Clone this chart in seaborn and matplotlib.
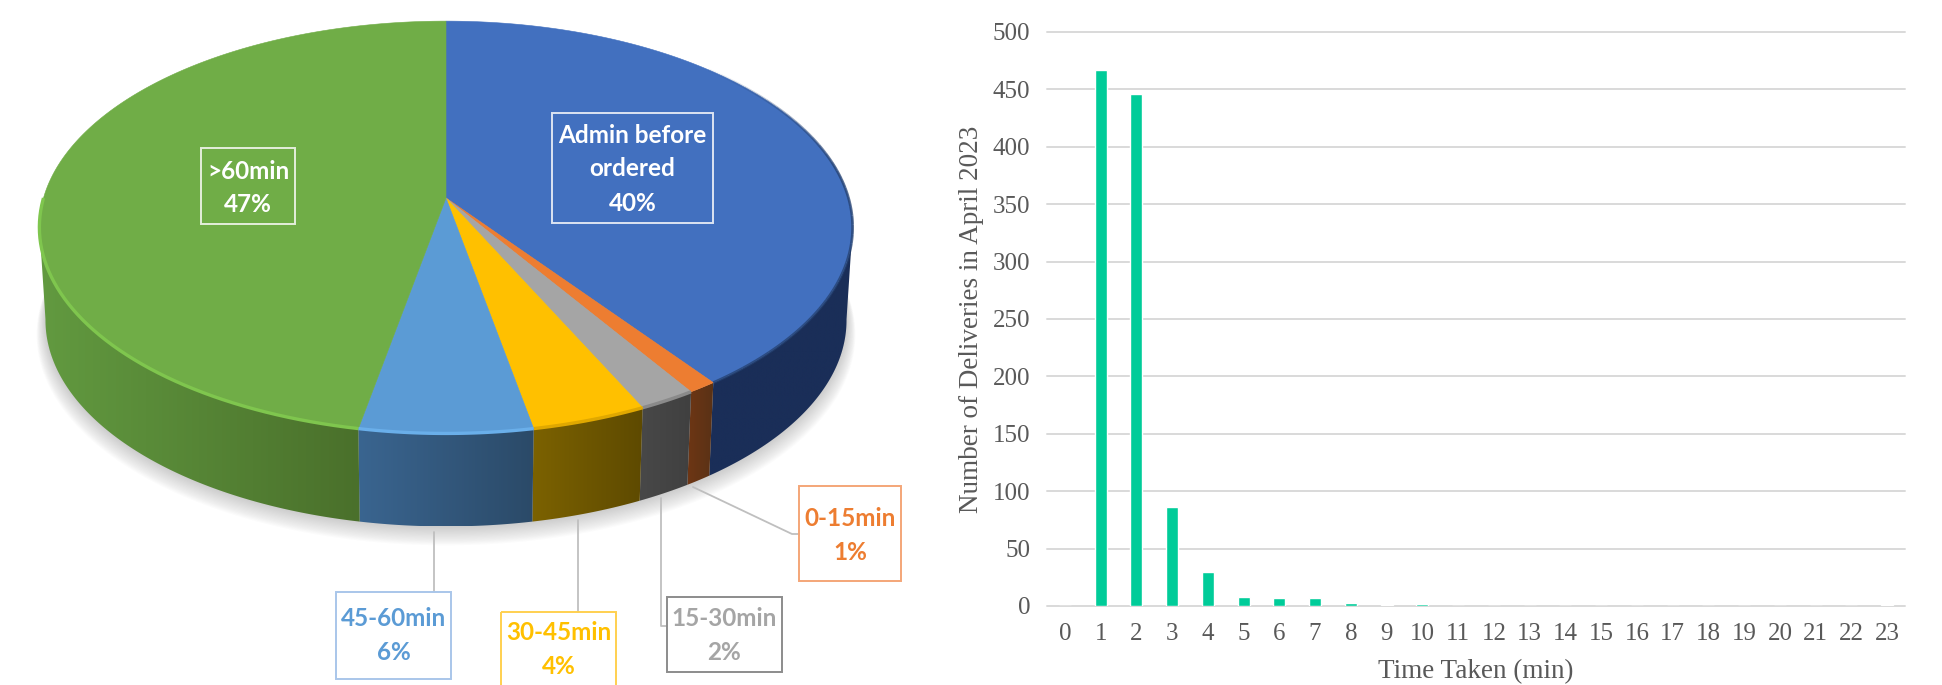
import numpy as np
import pandas as pd
import matplotlib
matplotlib.use("Agg")
import matplotlib.pyplot as plt
from matplotlib.patches import Polygon, Rectangle
from matplotlib.colors import LinearSegmentedColormap
import seaborn as sns

# Share of deliveries by lead-time band, clockwise from twelve o'clock
band_names = ["Admin before\nordered", "0-15min", "15-30min", "30-45min", "45-60min", ">60min"]
band_shares = [40, 1, 2, 4, 6, 47]
top_colors = ["#4270BF", "#ED7D31", "#A5A5A5", "#FFC000", "#5B9BD5", "#70AD47"]
side_left = ["#1A2E58", "#6E3614", "#484848", "#7C6200", "#3A6590", "#629A40"]
side_right = ["#1A2E58", "#5A3216", "#404040", "#5E4A00", "#2B4A68", "#4A702B"]
rim_colors = [None, None, "#8A8A8A", "#E0A800", "#6AAFEA", "#7FC64E"]
label_colors = ["white", "#ED7D31", "#A5A5A5", "#FFC000", "#5B9BD5", "white"]
edge_colors = ["#DCE4F2", "#F4A678", "#8C8C8C", "#FFD050", "#A9C6EA", "#E4EEDC"]

# Deliveries per minute taken
minutes = list(range(24))
deliveries = [0, 467, 446, 86, 30, 8, 7, 7, 3, 1, 2, 0, 0, 0, 0, 0, 0, 0, 0, 0, 0, 0, 0, 1]

W, H = 1942, 685
GREY = "#595959"

sns.set_theme(style="white")
plt.rcParams["font.family"] = ["Liberation Serif", "DejaVu Sans"]

fig = plt.figure(figsize=(W / 100, H / 100), dpi=100, facecolor="white")

# ---------- perspective pie ----------
pie_ax = fig.add_axes([0, 0, 1, 1])
pie_ax.set_xlim(0, W)
pie_ax.set_ylim(H, 0)
pie_ax.axis("off")

APEX_X, APEX_Y = 446, 198
SPREAD_X, SPREAD_Y, TILT = 402.5, 202.0, 0.142
DEPTH, BASE_SHRINK = 93, 0.985
# Only this stretch of the circle faces the viewer
FRONT_START, FRONT_END = 0.272, 0.728


def rim(frac_start, frac_end, lower=False):
    """Points on the rim between two cumulative fractions of the circle."""
    n = max(int(abs(frac_end - frac_start) * 720), 2)
    theta = 2 * np.pi * np.linspace(frac_start, frac_end, n)
    x, y = np.sin(theta), -np.cos(theta)
    denom = 1 - TILT * y
    px = x * SPREAD_X / denom
    py = y * SPREAD_Y / denom
    if lower:
        return np.column_stack([APEX_X + px * BASE_SHRINK, APEX_Y + py + DEPTH])
    return np.column_stack([APEX_X + px, APEX_Y + py])


# Soft shadow on the ground below the pie
base = rim(0, 1, lower=True)
base_mid = base.mean(axis=0)
for s in np.linspace(1, 0, 16):
    spread = base_mid + (base - base_mid) * (1 + 0.022 * s) + [0, 14 * s]
    pie_ax.add_patch(Polygon(spread, closed=True, fc="#707070", ec="none",
                             alpha=0.022, zorder=1))

bounds = np.concatenate([[0], np.cumsum(band_shares)]) / sum(band_shares)

# Side wall, each band with its own left-to-right shading
for i in range(len(band_shares)):
    start = max(bounds[i], FRONT_START)
    end = min(bounds[i + 1], FRONT_END)
    if end <= start:
        continue
    upper = rim(start, end)
    lower = rim(start, end, lower=True)
    outline = np.vstack([upper, lower[::-1]])
    clip = Polygon(outline, closed=True, fc="none", ec="none", transform=pie_ax.transData)
    pie_ax.add_patch(clip)
    xmin, xmax = outline[:, 0].min(), outline[:, 0].max()
    ymin, ymax = outline[:, 1].min(), outline[:, 1].max()
    cmap = LinearSegmentedColormap.from_list("wall", [side_left[i], side_right[i]])
    img = pie_ax.imshow(np.linspace(0, 1, 256)[None, :], cmap=cmap, aspect="auto",
                        extent=[xmin, xmax, ymax, ymin], zorder=2)
    img.set_clip_path(clip)
pie_ax.set_xlim(0, W)
pie_ax.set_ylim(H, 0)

# Top face
for i in range(len(band_shares)):
    pts = np.vstack([[APEX_X, APEX_Y], rim(bounds[i], bounds[i + 1])])
    pie_ax.add_patch(Polygon(pts, closed=True, fc=top_colors[i], ec=top_colors[i],
                             lw=0.4, zorder=3))

# Bevel along the front rim: light on the left bands, fading dark edge on the blue
for i, colour in enumerate(rim_colors):
    if colour is None:
        continue
    stop = min(bounds[i + 1], 0.75)
    bevel = rim(bounds[i], stop)
    pie_ax.plot(bevel[:, 0], bevel[:, 1], color=colour, lw=2.4, zorder=4,
                solid_capstyle="butt")
fade_steps = np.linspace(0.12, bounds[1], 40)
for k, (f0, f1) in enumerate(zip(fade_steps[:-1], fade_steps[1:])):
    edge = rim(f0, f1)
    pie_ax.plot(edge[:, 0], edge[:, 1], color="#24406F",
                alpha=min(k / 14, 1) * 0.75, lw=2.0, zorder=4, solid_capstyle="butt")

# Leader lines from the rim to the outside labels
leaders = [
    ([434, 434], [532, 592]),
    ([578, 578], [520, 612]),
    ([661, 661, 667], [498, 626, 626]),
    ([693, 792, 799], [487, 534, 534]),
]
for lx, ly in leaders:
    pie_ax.plot(lx, ly, color="#BFBFBF", lw=1.3, zorder=4)

# Label boxes: left, right, top, bottom, then the text line centres
boxes = {
    0: (552, 713, 113, 223, [135, 168, 203]),
    1: (799, 901, 486, 581, [518, 552]),
    2: (667, 782, 597, 672, [618, 652]),
    3: (501, 616, 612, 700, [633, 667]),
    4: (336, 451, 592, 679, [618, 652]),
    5: (201, 295, 148, 224, [171, 204]),
}
for i, (x0, x1, y0, y1, lines) in boxes.items():
    pie_ax.add_patch(Rectangle((x0, y0), x1 - x0, y1 - y0, fc="none",
                               ec=edge_colors[i], lw=1.4, zorder=5))
    text_lines = band_names[i].split("\n") + [f"{band_shares[i]}%"]
    for line, yc in zip(text_lines, lines):
        pie_ax.text((x0 + x1) / 2, yc, line, color=label_colors[i], family="Lato",
                    fontweight="bold", fontsize=17.5, ha="center", va="center", zorder=6)

# ---------- delivery-time bars ----------
left, right, top, bottom = 1047, 1905, 32, 606
bar_ax = fig.add_axes([left / W, 1 - bottom / H, (right - left) / W, (bottom - top) / H])
bar_ax.patch.set_alpha(0)
frame = pd.DataFrame({"minute": minutes, "count": deliveries})
sns.barplot(data=frame, x="minute", y="count", color="#00CC99", saturation=1,
            width=0.33, ax=bar_ax, zorder=3)
bar_ax.set_xlim(-0.5, 23.5)
bar_ax.set_ylim(0, 500)
bar_ax.set_yticks(range(0, 501, 50))
bar_ax.yaxis.grid(True, color="#D9D9D9", lw=1.4, zorder=0)
for line in bar_ax.get_ygridlines():
    line.set_clip_on(False)
bar_ax.xaxis.grid(False)
sns.despine(ax=bar_ax, left=True, bottom=True)
bar_ax.tick_params(axis="x", length=0, pad=12, labelsize=18, labelcolor=GREY)
bar_ax.tick_params(axis="y", length=0, pad=12, labelsize=18, labelcolor=GREY)
bar_ax.set_xlabel("Time Taken (min)", fontsize=19.5, color=GREY, va="center")
bar_ax.set_ylabel("Number of Deliveries in April 2023", fontsize=19.5, color=GREY, va="center")
bar_ax.xaxis.set_label_coords(0.5, -(672 - bottom) / (bottom - top))
bar_ax.yaxis.set_label_coords((972 - left) / (right - left), 0.5)

fig.savefig("out.png", dpi=100, facecolor="white")
